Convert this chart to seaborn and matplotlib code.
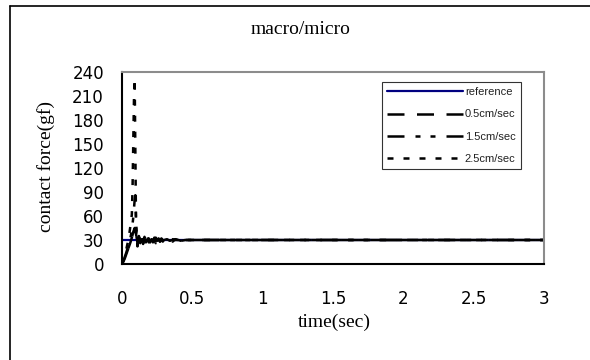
import matplotlib
matplotlib.use("Agg")
import matplotlib.pyplot as plt
from matplotlib.lines import Line2D
import seaborn as sns
import pandas as pd

# ---- data -------------------------------------------------------------
title_text = "macro/micro"
x_label = "time(sec)"
y_label = "contact force(gf)"

x_ticks = [0, 0.5, 1, 1.5, 2, 2.5, 3]
x_tick_labels = ["0", "0.5", "1", "1.5", "2", "2.5", "3"]
y_ticks = [0, 30, 60, 90, 120, 150, 180, 210, 240]

ref_time = [0.0, 3.0]
ref_force = [30, 30]

time_05 = [0.00, 0.01, 0.02, 0.03, 0.04, 0.05, 0.06, 0.07, 0.08, 0.09,
           0.10, 0.11, 0.12, 0.13, 0.14, 0.15, 0.16, 0.17, 0.18, 0.19,
           0.20, 0.21, 0.22, 0.23, 0.24, 0.25, 0.26, 0.27, 0.28, 0.29,
           0.30, 0.32, 0.34, 0.36, 0.38, 0.40, 0.42, 0.45, 0.50, 3.00]
force_05 = [0, 3, 7, 12, 17, 22, 27, 33, 40, 45,
            37, 27, 33, 26, 31, 29, 34, 27, 30, 32,
            28, 31, 27, 33, 29, 30, 32, 28, 31, 29,
            30, 31, 29, 30, 31, 30, 29, 30, 30, 30]

time_15 = [0.00, 0.01, 0.02, 0.03, 0.04, 0.05, 0.06, 0.07, 0.08, 0.09,
           0.095, 0.10, 0.11, 0.12, 0.13, 0.14, 0.15, 0.16, 0.17, 0.18,
           0.19, 0.20, 0.21, 0.22, 0.23, 0.24, 0.25, 0.26, 0.27, 0.28,
           0.29, 0.30, 0.32, 0.34, 0.36, 0.38, 0.40, 0.42, 0.45, 0.50, 3.00]
force_15 = [0, 4, 9, 14, 20, 26, 33, 42, 58, 80,
            86, 52, 24, 35, 27, 33, 26, 31, 28, 34,
            29, 27, 32, 30, 26, 33, 29, 31, 28, 32,
            30, 29, 31, 30, 28, 31, 30, 30, 30, 30, 30]

time_25 = [0.00, 0.01, 0.02, 0.03, 0.04, 0.05, 0.06, 0.07,
           0.075, 0.08, 0.085, 0.09, 0.095,
           0.10, 0.11, 0.12, 0.13, 0.14, 0.15, 0.16, 0.17, 0.18, 0.19,
           0.20, 0.21, 0.22, 0.23, 0.24, 0.25, 0.26, 0.27, 0.28, 0.29, 0.30,
           0.32, 0.34, 0.36, 0.38, 0.40, 0.42, 0.45, 0.50, 3.00]
force_25 = [0, 5, 11, 18, 26, 35, 48, 62,
            95, 150, 205, 232, 140,
            45, 22, 36, 27, 33, 25, 32, 29, 35, 27,
            31, 28, 33, 30, 26, 32, 29, 31, 30, 28, 32,
            30, 29, 31, 30, 30, 30, 30, 30, 30]

series_names = ["reference", "0.5cm/sec", "1.5cm/sec", "2.5cm/sec"]

# ---- styling ----------------------------------------------------------
sns.set_theme(style="white")
plt.rcParams["font.family"] = ["Liberation Sans", "DejaVu Sans"]
SERIF = ["Liberation Serif", "DejaVu Serif"]
TICK_FONT = ["DejaVu Sans"]

W, H = 590, 360
fig = plt.figure(figsize=(W / 100, H / 100), dpi=100)
fig.patch.set_facecolor("white")

# plot area in pixel terms: left 122, right 544, top 72, bottom 264
L, R, T, B = 122, 544, 72, 264
ax = fig.add_axes([L / W, 1 - B / H, (R - L) / W, (B - T) / H])
ax.set_facecolor("white")

lw = 1.8
styles = {
    "reference": dict(color="#000080", lw=1.6, ls="-", gap=None),
    "0.5cm/sec": dict(color="black", lw=lw, ls=(0, (6.8, 5.0)), gap="black"),
    "1.5cm/sec": dict(color="black", lw=lw,
                      ls=(0, (6.8, 4.4, 2.0, 4.0, 2.0, 4.4)), gap=None),
    "2.5cm/sec": dict(color="black", lw=lw, ls=(0, (2.4, 4.0)), gap=None),
}
data = {
    "reference": (ref_time, ref_force),
    "0.5cm/sec": (time_05, force_05),
    "1.5cm/sec": (time_15, force_15),
    "2.5cm/sec": (time_25, force_25),
}

for name in series_names:
    t, f = data[name]
    df = pd.DataFrame({"time": t, "force": f})
    st = styles[name]
    extra = {"gapcolor": st["gap"]} if st["gap"] else {}
    sns.lineplot(data=df, x="time", y="force", ax=ax, estimator=None,
                 sort=False, color=st["color"], linewidth=st["lw"],
                 linestyle=st["ls"], label=name, **extra)

ax.set_xlim(0, 3)
ax.set_ylim(0, 240)
ax.set_xticks(x_ticks)
ax.set_xticklabels(x_tick_labels, family=TICK_FONT)
ax.set_yticks(y_ticks)
ax.set_yticklabels([str(v) for v in y_ticks], family=TICK_FONT)

ax.tick_params(axis="both", direction="in", length=4, width=1,
               color="black", labelsize=12, labelcolor="black")
ax.tick_params(axis="x", pad=19)
ax.tick_params(axis="y", pad=13)

for side in ("left", "bottom"):
    ax.spines[side].set_color("black")
    ax.spines[side].set_linewidth(1.5)
for side in ("top", "right"):
    ax.spines[side].set_color("#8c8c8c")
    ax.spines[side].set_linewidth(1.5)

ax.set_xlabel(x_label, family=SERIF, fontsize=14, color="black")
ax.xaxis.set_label_coords((334 - L) / (R - L), -0.26)
ax.set_ylabel(y_label, family=SERIF, fontsize=14, color="black")
ax.yaxis.set_label_coords((55 - L) / (R - L), 0.51)

fig.text(301 / W, 1 - 29 / H, title_text, family=SERIF, fontsize=14,
         ha="center", va="center", color="black")

leg = ax.legend(loc="upper left",
                bbox_to_anchor=((382 - L) / (R - L), (B - 82) / (B - T)),
                fontsize=8, frameon=True, fancybox=False, borderaxespad=0,
                handlelength=6.8, handletextpad=0.2, labelspacing=1.12,
                borderpad=0.45)
leg.get_frame().set_edgecolor("black")
leg.get_frame().set_linewidth(0.8)
for handle in leg.legend_handles:
    handle.set_gapcolor(None)
for txt in leg.get_texts():
    txt.set_color("#222222")

# outer chart border (left and top edges)
fig.add_artist(Line2D([10 / W, 10 / W], [0, 1 - 6 / H], transform=fig.transFigure,
                      color="black", lw=1.2))
fig.add_artist(Line2D([10 / W, 1.0], [1 - 6 / H, 1 - 6 / H],
                      transform=fig.transFigure, color="black", lw=1.2))

fig.savefig("out.png", dpi=100, facecolor="white")
